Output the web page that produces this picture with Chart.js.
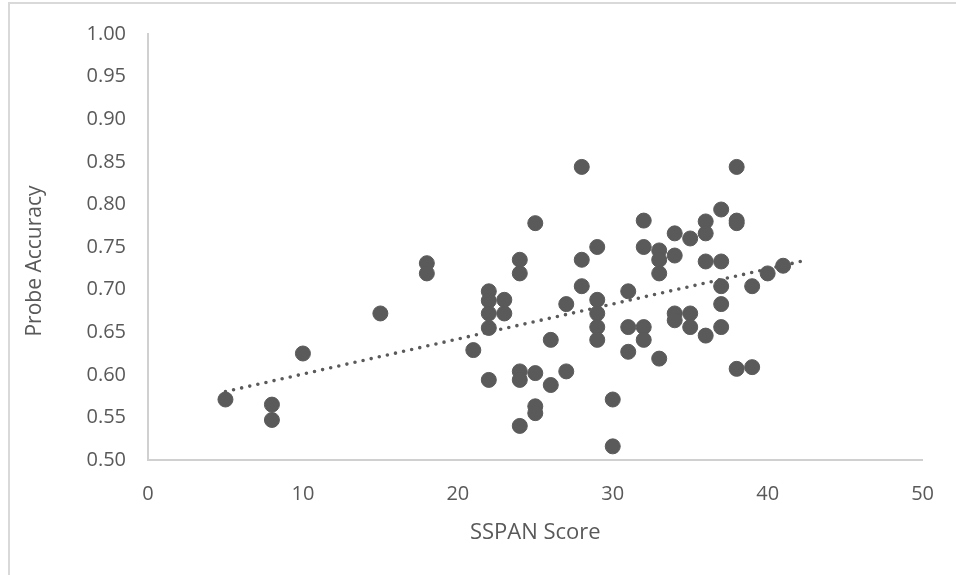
<!DOCTYPE html>
<html>
<head>
<meta charset="utf-8">
<script src="https://cdn.jsdelivr.net/npm/chart.js@4/dist/chart.umd.min.js"></script>
<style>
  body { margin: 0; background: #fff; }
  #frame {
    position: absolute; left: 8px; top: 2px; width: 960px; height: 580px;
    border-top: 2px solid #d9d9d9; border-left: 2px solid #d9d9d9;
  }
  #wrap { position: absolute; left: 0; top: 0; width: 956px; height: 575px; }
</style>
</head>
<body>
<div id="frame"></div>
<div id="wrap"><canvas id="scatterChart" width="956" height="575"></canvas></div>
<script>
// SSPAN score and probe accuracy, one entry per participant
const sspanScores = [
  5, 8, 8, 10, 15, 18, 18, 21,
  22, 22, 22, 22, 22, 23, 23,
  24, 24, 24, 24, 24, 25, 25, 25, 25,
  26, 26, 27, 27, 28, 28, 28,
  29, 29, 29, 29, 29, 30, 30, 31, 31, 31,
  32, 32, 32, 32, 33, 33, 33, 33,
  34, 34, 34, 34, 35, 35, 35,
  36, 36, 36, 36, 37, 37, 37, 37, 37,
  38, 38, 38, 38, 39, 39, 40, 41
];
const probeAccuracy = [
  0.571, 0.565, 0.547, 0.625, 0.672, 0.731, 0.719, 0.629,
  0.698, 0.687, 0.672, 0.655, 0.594, 0.688, 0.672,
  0.735, 0.719, 0.604, 0.594, 0.540, 0.778, 0.602, 0.563, 0.555,
  0.641, 0.588, 0.683, 0.604, 0.844, 0.735, 0.704,
  0.750, 0.688, 0.672, 0.656, 0.641, 0.571, 0.516, 0.698, 0.656, 0.627,
  0.781, 0.750, 0.656, 0.641, 0.746, 0.735, 0.719, 0.619,
  0.766, 0.740, 0.672, 0.664, 0.760, 0.672, 0.656,
  0.780, 0.766, 0.733, 0.646, 0.794, 0.733, 0.704, 0.683, 0.656,
  0.844, 0.781, 0.778, 0.607, 0.704, 0.609, 0.719, 0.728
];
const xTicks = [0, 10, 20, 30, 40, 50];
const yTicks = [0.50, 0.55, 0.60, 0.65, 0.70, 0.75, 0.80, 0.85, 0.90, 0.95, 1.00];
const trendRange = [5, 42.6];

const points = sspanScores.map((x, i) => ({ x: x, y: probeAccuracy[i] }));

// least-squares linear trend
const n = points.length;
const mx = sspanScores.reduce((a, b) => a + b, 0) / n;
const my = probeAccuracy.reduce((a, b) => a + b, 0) / n;
let sxy = 0, sxx = 0;
points.forEach(p => { sxy += (p.x - mx) * (p.y - my); sxx += (p.x - mx) * (p.x - mx); });
const slope = sxy / sxx;
const intercept = my - slope * mx;
const trendPoints = trendRange.map(x => ({ x: x, y: intercept + slope * x }));

const grey = '#5a5a5a';
const textGrey = '#595959';
const axisLine = '#d0d0d0';

// vertical axis title, sitting a little below the middle of the axis
const yTitlePlugin = {
  id: 'yTitle',
  afterDraw(chart) {
    const ctx = chart.ctx;
    ctx.save();
    ctx.translate(35, 261);
    ctx.rotate(-Math.PI / 2);
    ctx.fillStyle = textGrey;
    ctx.font = '21px "Open Sans"';
    ctx.textAlign = 'center';
    ctx.textBaseline = 'middle';
    ctx.fillText('Probe Accuracy', 0, 0);
    ctx.restore();
  }
};

new Chart(document.getElementById('scatterChart').getContext('2d'), {
  type: 'scatter',
  data: {
    datasets: [{
      label: 'Probe Accuracy',
      data: points,
      backgroundColor: grey,
      borderColor: grey,
      borderWidth: 1,
      pointRadius: 7.5,
      pointHoverRadius: 7.5
    }, {
      label: 'Linear trend',
      type: 'line',
      data: trendPoints,
      borderColor: grey,
      borderWidth: 3.6,
      borderDash: [0, 8.3],
      borderCapStyle: 'round',
      pointRadius: 0,
      fill: false
    }]
  },
  options: {
    responsive: false,
    animation: false,
    layout: { padding: { left: 0, top: 32, right: 27, bottom: 0 } },
    plugins: { legend: { display: false }, tooltip: { enabled: false } },
    scales: {
      x: {
        type: 'linear',
        min: 0,
        max: 50,
        afterBuildTicks: axis => { axis.ticks = xTicks.map(v => ({ value: v })); },
        afterFit: axis => { axis.height = 115; },
        grid: { display: false, drawTicks: false },
        border: { display: true, color: axisLine, width: 2 },
        ticks: { color: textGrey, padding: 22, font: { family: 'Open Sans', size: 20 } },
        title: {
          display: true,
          text: 'SSPAN Score',
          color: textGrey,
          font: { family: 'Open Sans', size: 22 },
          padding: { top: 0, bottom: 29 }
        }
      },
      y: {
        type: 'linear',
        min: 0.5,
        max: 1.0,
        afterBuildTicks: axis => { axis.ticks = yTicks.map(v => ({ value: v })); },
        afterFit: axis => { axis.width = 148; },
        grid: { display: false, drawTicks: false },
        border: { display: true, color: axisLine, width: 2 },
        ticks: {
          color: textGrey,
          padding: 22,
          font: { family: 'Open Sans', size: 20 },
          callback: v => v.toFixed(2)
        },
        title: { display: false }
      }
    }
  },
  plugins: [yTitlePlugin]
});
</script>
</body>
</html>
